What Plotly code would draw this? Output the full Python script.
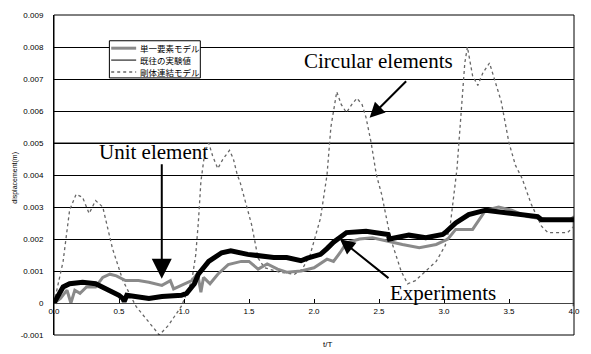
import plotly.graph_objects as go

# ---- data (t/T, displacement in m) ----
unit_t = [0.00, 0.05, 0.10, 0.13, 0.16, 0.20, 0.25, 0.32, 0.375, 0.43, 0.48, 0.55, 0.65, 0.73,
          0.83, 0.895, 0.92, 0.98, 1.06, 1.10, 1.11, 1.13, 1.15, 1.20, 1.26, 1.34, 1.44, 1.50,
          1.54, 1.57, 1.64, 1.72, 1.79, 1.90, 2.00, 2.10, 2.15, 2.20, 2.25, 2.30, 2.35, 2.45,
          2.55, 2.68, 2.81, 2.94, 3.03, 3.09, 3.14, 3.22, 3.32, 3.42, 3.52, 3.64, 3.80, 3.97,
          4.00, 4.00]
unit_v = [0.0, 0.00014, 0.0004, 0.0, 0.0004, 0.0003, 0.0005, 0.0005, 0.0008, 0.0009, 0.00085,
          0.0007, 0.0007, 0.00065, 0.00055, 0.0007, 0.00044, 0.00055, 0.0007, 0.0009, 0.0008,
          0.00034, 0.0008, 0.0006, 0.0009, 0.0012, 0.0013, 0.0013, 0.00116, 0.00106, 0.00122,
          0.00106, 0.00096, 0.0010, 0.0011, 0.00137, 0.0013, 0.00157, 0.00188, 0.00193, 0.0020,
          0.00204, 0.00194, 0.00183, 0.00173, 0.00183, 0.0020, 0.0023, 0.0023, 0.0023, 0.0029,
          0.0030, 0.0029, 0.0027, 0.0026, 0.0026, 0.0027, -0.0001]

exp_t = [0.00, 0.03, 0.07, 0.12, 0.22, 0.32, 0.43, 0.50, 0.53, 0.54, 0.56, 0.63, 0.73, 0.83,
         0.98, 1.02, 1.08, 1.11, 1.19, 1.29, 1.36, 1.49, 1.57, 1.69, 1.79, 1.90, 1.95, 2.05,
         2.10, 2.15, 2.25, 2.40, 2.57, 2.58, 2.73, 2.86, 2.99, 3.01, 3.09, 3.19, 3.32, 3.52,
         3.72, 3.75, 3.97, 4.00]
exp_v = [0.0, 0.0002, 0.0005, 0.0006, 0.00065, 0.0006, 0.0004, 0.00024, 0.00014, 0.00005, 0.00024,
         0.0002, 0.00014, 0.0002, 0.00024, 0.0003, 0.0006, 0.0009, 0.0013, 0.00157, 0.00163,
         0.00152, 0.00147, 0.00142, 0.00142, 0.00132, 0.0014, 0.00152, 0.0017, 0.0019, 0.0022,
         0.00224, 0.00214, 0.0020, 0.00212, 0.00204, 0.00214, 0.0022, 0.0025, 0.00276, 0.0029,
         0.0028, 0.0027, 0.0026, 0.0026, 0.0026]

rig_t = [0.00, 0.07, 0.12, 0.17, 0.22, 0.27, 0.32, 0.375, 0.45, 0.53, 0.63, 0.73, 0.81, 0.88,
         0.98, 1.06, 1.09, 1.11, 1.13, 1.16, 1.19, 1.22, 1.26, 1.30, 1.35, 1.38, 1.41, 1.43,
         1.52, 1.57, 1.62, 1.74, 1.85, 1.91, 1.97, 2.05, 2.10, 2.13, 2.175, 2.21, 2.25, 2.29,
         2.33, 2.37, 2.40, 2.44, 2.48, 2.52, 2.59, 2.67, 2.72, 2.78, 2.94, 3.01, 3.05, 3.10,
         3.13, 3.16, 3.18, 3.22, 3.26, 3.30, 3.35, 3.39, 3.44, 3.50, 3.55, 3.60, 3.67, 3.75,
         3.80, 3.95, 4.00]
rig_v = [0.0, 0.0013, 0.0029, 0.0034, 0.0033, 0.0028, 0.0032, 0.0030, 0.0017, 0.0007, -0.0001,
         -0.0006, -0.0010, -0.0007, -0.0001, 0.0007, 0.0015, 0.0025, 0.0038, 0.0047, 0.0050,
         0.0046, 0.0042, 0.0045, 0.00477, 0.0045, 0.0040, 0.0038, 0.00245, 0.0014, 0.0011,
         0.00096, 0.0009, 0.00106, 0.0015, 0.00265, 0.0040, 0.0055, 0.0066, 0.0062, 0.00595,
         0.0062, 0.0064, 0.0062, 0.0058, 0.0050, 0.0040, 0.0034, 0.0020, 0.0010, 0.0006, 0.0007,
         0.0013, 0.0018, 0.0025, 0.0042, 0.0060, 0.0075, 0.0080, 0.0071, 0.0068, 0.0072, 0.0075,
         0.0070, 0.0063, 0.0050, 0.0043, 0.0039, 0.0031, 0.0024, 0.0022, 0.0022, 0.0024]

x_ticks = [0.0, 0.5, 1.0, 1.5, 2.0, 2.5, 3.0, 3.5, 4.0]
x_labels = ["0.0", "0.5", "1.0", "1.5", "2.0", "2.5", "3.0", "3.5", "4.0"]
y_ticks = [-0.001, 0.0, 0.001, 0.002, 0.003, 0.004, 0.005, 0.006, 0.007, 0.008, 0.009]
y_labels = ["-0.001", "0", "0.001", "0.002", "0.003", "0.004", "0.005", "0.006", "0.007",
            "0.008", "0.009"]

names = ["単一要素モデル", "既往の実験値", "剛体連結モデル"]

UNIT_COLOR = "#8a8a8a"
RIG_COLOR = "#666666"

fig = go.Figure()
fig.add_trace(go.Scatter(x=rig_t, y=rig_v, mode="lines", name=names[2],
                         line=dict(color=RIG_COLOR, width=1.3, dash="dot")))
fig.add_trace(go.Scatter(x=unit_t, y=unit_v, mode="lines", name=names[0],
                         line=dict(color=UNIT_COLOR, width=3)))
fig.add_trace(go.Scatter(x=exp_t, y=exp_v, mode="lines", name=names[1],
                         line=dict(color="black", width=5)))

tick_font = dict(family="Liberation Sans, Arial", size=8, color="black")
serif = dict(family="Liberation Serif, Times New Roman", size=21, color="black")
leg_font = dict(family="Noto Sans CJK JP", size=8.5, color="black")

# manual legend (compact, like the original)
box_x0, box_x1, box_y0, box_y1 = 0.1065, 0.2814, 0.8034, 0.9195
rows = [0.8963, 0.8591, 0.8220]
samp_x0, samp_x1, text_x = 0.110, 0.158, 0.1616
leg_styles = [dict(color=UNIT_COLOR, width=3), dict(color="black", width=1),
              dict(color=RIG_COLOR, width=1.5, dash="dot")]

shapes = [
    dict(type="line", xref="paper", yref="y", x0=0, x1=1, y0=0.005, y1=0.005,
         line=dict(color="#888888", width=2), layer="below"),
    dict(type="rect", xref="paper", yref="paper", x0=0, x1=1, y0=0, y1=1,
         line=dict(color="black", width=1)),
    dict(type="rect", xref="paper", yref="paper", x0=box_x0, x1=box_x1, y0=box_y0, y1=box_y1,
         line=dict(color="black", width=1), fillcolor="white", layer="above"),
]
annotations = [
    dict(text="t/T", xref="paper", yref="paper", x=0.525, y=-0.031, xanchor="center",
         yanchor="middle", showarrow=False, font=tick_font),
    dict(text="displacement(m)", xref="paper", yref="paper", x=-0.074, y=0.49,
         xanchor="center", yanchor="middle", textangle=-90, showarrow=False,
         font=dict(family="Liberation Sans, Arial", size=7, color="black")),
    dict(text="Unit element", x=0.768, y=0.00471, showarrow=False, font=serif),
    dict(text="Circular elements", x=2.494, y=0.00755, showarrow=False, font=serif),
    dict(text="Experiments", x=2.996, y=0.0003, showarrow=False, font=serif),
    dict(text="", x=0.829, y=0.00076, ax=0, ay=-116, showarrow=True, arrowhead=2,
         arrowsize=2.0, arrowwidth=2, arrowcolor="black"),
    dict(text="", x=2.428, y=0.00579, ax=38, ay=-38, showarrow=True, arrowhead=2,
         arrowsize=1.5, arrowwidth=2, arrowcolor="black"),
    dict(text="", x=2.2, y=0.00199, ax=50, ay=40, showarrow=True, arrowhead=2,
         arrowsize=1.5, arrowwidth=2, arrowcolor="black"),
]
for name, ry, st in zip(names, rows, leg_styles):
    shapes.append(dict(type="line", xref="paper", yref="paper", x0=samp_x0, x1=samp_x1,
                       y0=ry, y1=ry, line=st, layer="above"))
    annotations.append(dict(text=name, xref="paper", yref="paper", x=text_x, y=ry,
                            xanchor="left", yanchor="middle", showarrow=False, font=leg_font))

fig.update_layout(
    width=591, height=354,
    margin=dict(l=54, r=11, t=12, b=19),
    paper_bgcolor="white", plot_bgcolor="white",
    showlegend=False,
    xaxis=dict(range=[0, 4], anchor="free", position=0.1, showline=True, linecolor="#444444",
               linewidth=1, ticks="inside", ticklen=4, tickcolor="black",
               tickvals=x_ticks, ticktext=x_labels, showgrid=False, zeroline=False,
               tickfont=tick_font),
    yaxis=dict(range=[-0.001, 0.009], showline=True, linecolor="black", linewidth=1,
               tickvals=y_ticks, ticktext=y_labels, showgrid=True, gridcolor="black",
               gridwidth=1, zeroline=False, tickfont=tick_font, ticklabelstandoff=8),
    shapes=shapes,
    annotations=annotations,
)

fig.write_html("out.html")
